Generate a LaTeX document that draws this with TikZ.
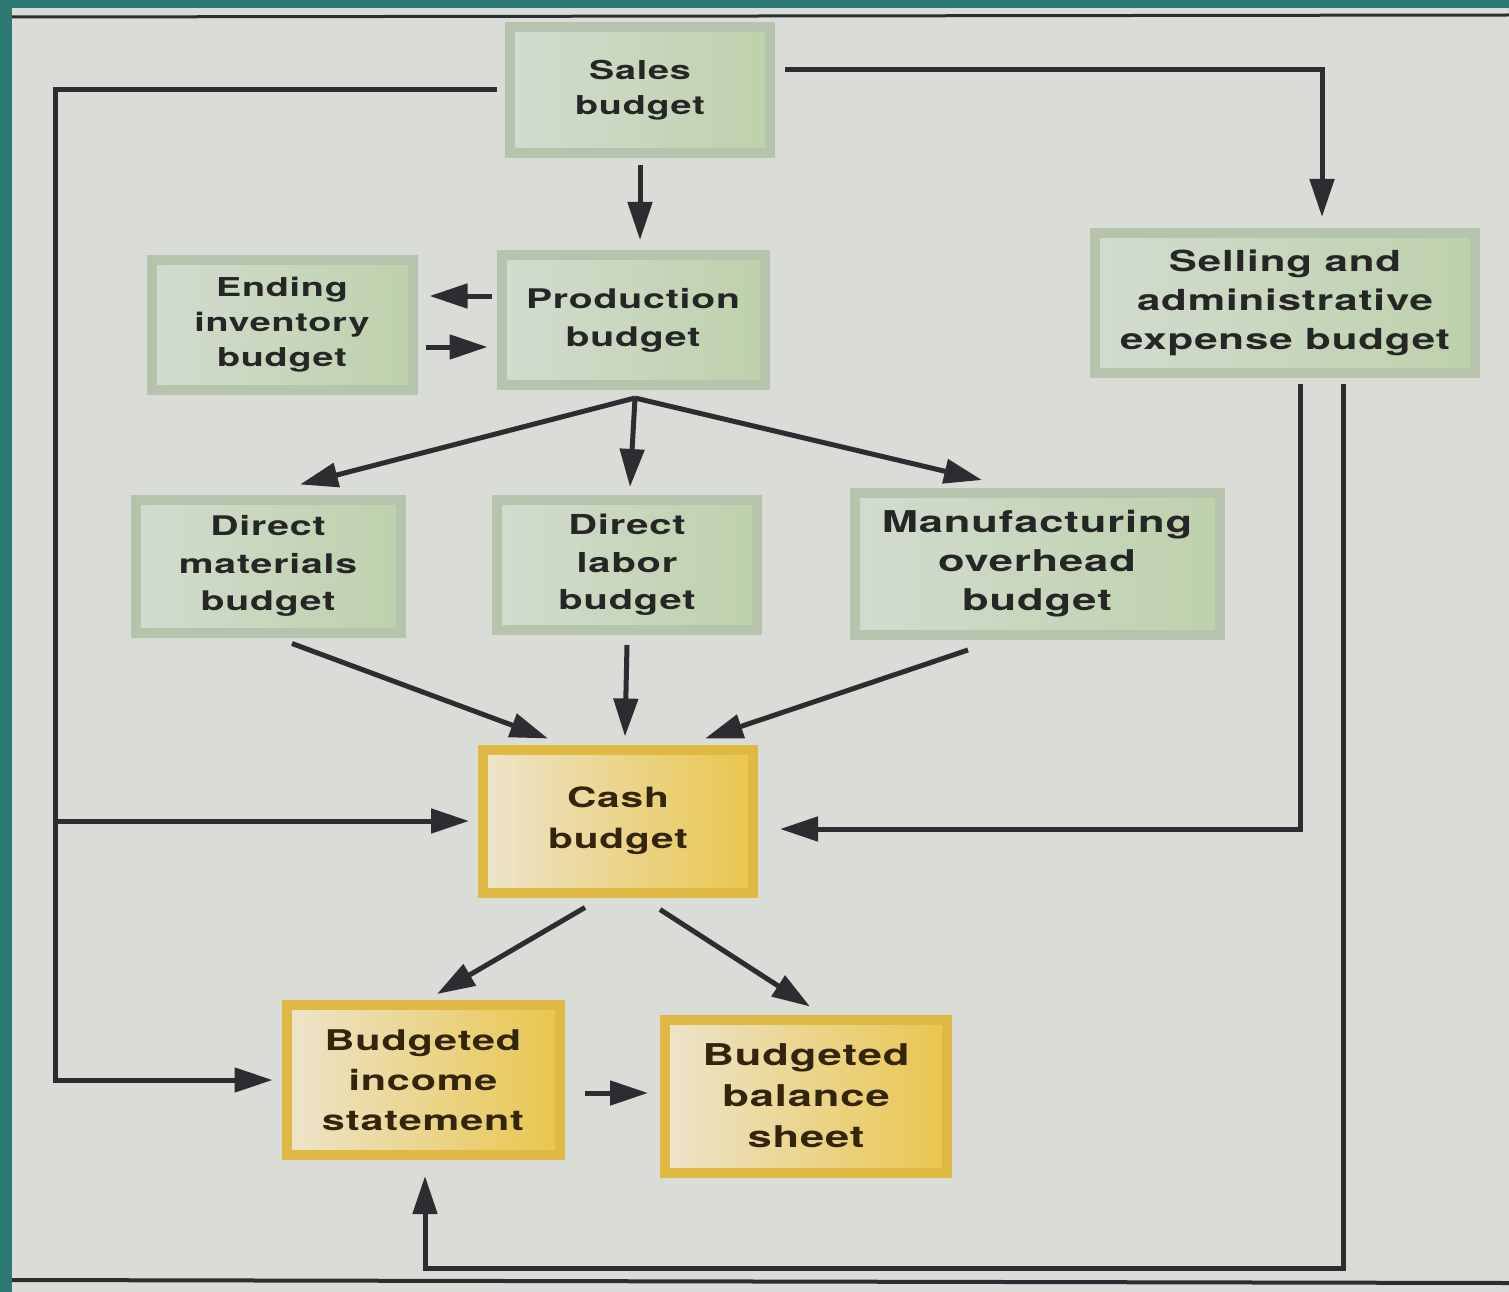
\documentclass[tikz,border=0pt]{standalone}
\usepackage{fontspec}
\setmainfont{TeX Gyre Heros}
\newfontfamily\boxfont[LetterSpace=3,FakeStretch=1.45]{TeX Gyre Heros}
\usetikzlibrary{arrows.meta,calc}
\definecolor{bg}{HTML}{DADCD8}
\definecolor{teal}{HTML}{2C7A73}
\definecolor{gframe}{HTML}{B6C4AE}
\definecolor{gl}{HTML}{D2DCCF}
\definecolor{gr}{HTML}{BED1AC}
\definecolor{yframe}{HTML}{E0B944}
\definecolor{yl}{HTML}{EDE4CC}
\definecolor{yr}{HTML}{E9C64E}
\definecolor{lc}{HTML}{2E2C30}
\definecolor{txt}{HTML}{262626}
\definecolor{txtb}{HTML}{33240C}
\newcommand\bsz[2]{\boxfont\bfseries\fontsize{#1}{#2}\selectfont}
\begin{document}
\begin{tikzpicture}[x=1pt,y=-1pt,
  gbox/.style={draw=gframe, line width=10pt, left color=gl, right color=gr, align=center, text=txt, inner sep=0pt},
  ybox/.style={draw=yframe, line width=10pt, left color=yl, right color=yr, align=center, text=txtb, inner sep=0pt},
  link/.style={draw=lc, line width=5pt},
  arr/.style={link, -{Triangle[length=38pt,width=24pt]}},
]
\useasboundingbox (0,0) rectangle (1509,1292);
\fill[bg] (0,0) rectangle (1509,1292);
\fill[teal] (0,0) rectangle (1509,8);
\fill[teal] (0,0) rectangle (12,1292);
\draw[lc, line width=3pt] (12,17) -- (1509,15);
\draw[lc, line width=4pt] (12,1280) -- (1509,1283);

% boxes
\node[gbox, minimum width=260pt, minimum height=126pt, font=\bsz{26}{35}] (sales) at (640,90) {Sales\\budget};
\node[gbox, minimum width=261pt, minimum height=130pt, font=\bsz{26}{35}] (ending) at (282,325) {Ending\\inventory\\budget};
\node[gbox, minimum width=263pt, minimum height=130pt, font=\bsz{27}{38}] (prod) at (633,320) {Production\\budget};
\node[gbox, minimum width=380pt, minimum height=140pt, font=\bsz{29}{39}] (selling) at (1285,303) {Selling and\\administrative\\expense budget};
\node[gbox, minimum width=265pt, minimum height=133pt, font=\bsz{27}{37.5}] (dm) at (268,566) {Direct\\materials\\budget};
\node[gbox, minimum width=260pt, minimum height=130pt, font=\bsz{27.5}{37.5}] (dl) at (627,565) {Direct\\labor\\budget};
\node[gbox, minimum width=365pt, minimum height=142pt, font=\bsz{30}{39}] (moh) at (1037,564) {Manufacturing\\overhead\\budget};
\node[ybox, minimum width=270pt, minimum height=143pt, font=\bsz{28}{41}] (cash) at (618,821) {Cash\\budget};
\node[ybox, minimum width=273pt, minimum height=150pt, font=\bsz{28.5}{40}] (income) at (423,1080) {Budgeted\\income\\statement};
\node[ybox, minimum width=282pt, minimum height=153pt, font=\bsz{30}{41}] (balance) at (806,1096) {Budgeted\\balance\\sheet};

% connectors
\draw[arr] ($(sales.south)+(0,7)$) -- ($(sales.south |- prod.north)+(0,-10)$);
\draw[arr] ($(sales.east)+(10,-20)$) -| ($(selling.north)+(37,-11)$);

\coordinate (lt) at (55,90);
\coordinate (lb) at (55,1080);
\coordinate (lm) at (cash.west -| lt);
\draw[link] ($(sales.west)+(-8,0)$) -- (lt) -- (lb);
\draw[arr] (lm) -- ($(cash.west)+(-9,0)$);
\draw[arr] ($(lb)+(-2.5,0)$) -- ($(income.west)+(-9,0)$);

\draw[arr] ($(prod.west)+(-5,-24)$) -- ($(ending.east)+(12,-29)$);
\draw[arr] ($(ending.east)+(8,22)$) -- ($(prod.west)+(-9,27)$);

\coordinate (pf) at ($(prod.south)+(2,8)$);
\draw[arr] (pf) -- ($(dm.north)+(32,-10)$);
\draw[arr] (pf) -- ($(dl.north)+(3,-8)$);
\draw[arr] (pf) -- ($(moh.north)+(-55,-8)$);

\draw[arr] ($(dm.south)+(24,6)$) -- ($(cash.north)+(-70,-6)$);
\draw[arr] ($(dl.south)+(0,10)$) -- ($(cash.north)+(7,-8)$);
\draw[arr] ($(moh.south)+(-69,10)$) -- ($(cash.north)+(87,-6)$);

\draw[arr] ($(selling.south)+(15,6)$) |- ($(cash.east)+(22,8)$);
\draw[arr] ($(selling.south)+(58,6)$) -- ++(0,884) -| ($(income.south)+(2,16)$);

\draw[arr] ($(cash.south)+(-33,10)$) -- ($(income.north)+(14,-6)$);
\draw[arr] ($(cash.south)+(42,12)$) -- ($(balance.north)+(4,-8)$);
\draw[arr] ($(income.east)+(20,13)$) -- ($(balance.west)+(-12,-3)$);
\end{tikzpicture}
\end{document}
